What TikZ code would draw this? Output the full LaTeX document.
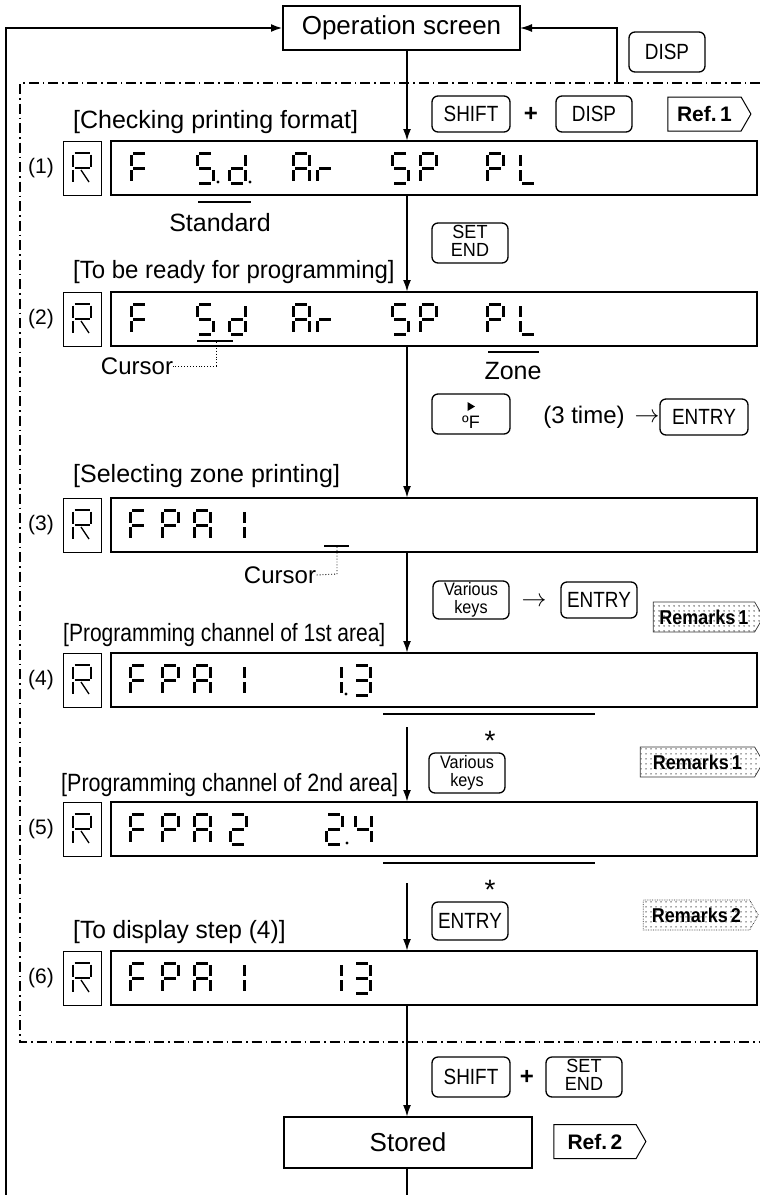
\documentclass[tikz,border=0pt]{standalone}
\usepackage{fontspec}
\setmainfont{Liberation Sans}
\usepackage{graphicx}
\usetikzlibrary{arrows.meta,shapes.symbols,patterns.meta,calc}
\tikzdeclarepattern{
  name=rdots,
  type=uncolored,
  bounding box={(0pt,0pt) and (4.5pt,4.5pt)},
  tile size={(4.5pt,4.5pt)},
  code={\pgfpathcircle{\pgfpoint{2.25pt}{2.25pt}}{0.85pt}\pgfusepath{fill}}
}
\newcommand\fsz[1]{\fontsize{#1}{#1}\selectfont}
% condensed key text
\newcommand\kt[1]{\scalebox{0.86}[1]{\fontsize{22}{22}\selectfont #1}}
\newcommand\ktt[3]{\scalebox{#3}[1]{\begin{tabular}{@{}c@{}}#1\\#2\end{tabular}}}
% seven segment display (cell 16 x 30)
\tikzset{seg/.style={line width=3pt, line cap=butt}}
\newcommand\SgA[2]{\draw[seg] ({#1+2},{#2}) -- ({#1+14},{#2});}
\newcommand\SgB[2]{\draw[seg] ({#1+16},{#2+2}) -- ({#1+16},{#2+13});}
\newcommand\SgC[2]{\draw[seg] ({#1+16},{#2+17}) -- ({#1+16},{#2+28});}
\newcommand\SgD[2]{\draw[seg] ({#1+2},{#2+30}) -- ({#1+14},{#2+30});}
\newcommand\SgE[2]{\draw[seg] ({#1},{#2+17}) -- ({#1},{#2+28});}
\newcommand\SgF[2]{\draw[seg] ({#1},{#2+2}) -- ({#1},{#2+13});}
\newcommand\SgG[2]{\draw[seg] ({#1+2},{#2+15}) -- ({#1+14},{#2+15});}
\newcommand\SgP[2]{\fill ({#1+21},{#2+29}) circle (1.7pt);}
\newcommand\dgF[2]{\SgA{#1}{#2}\SgF{#1}{#2}\SgE{#1}{#2}\SgG{#1}{#2}}
\newcommand\dgS[2]{\SgA{#1}{#2}\SgF{#1}{#2}\SgG{#1}{#2}\SgC{#1}{#2}\SgD{#1}{#2}}
\newcommand\dgd[2]{\SgB{#1}{#2}\SgC{#1}{#2}\SgD{#1}{#2}\SgE{#1}{#2}\SgG{#1}{#2}}
\newcommand\dgA[2]{\SgA{#1}{#2}\SgB{#1}{#2}\SgC{#1}{#2}\SgE{#1}{#2}\SgF{#1}{#2}\SgG{#1}{#2}}
\newcommand\dgr[2]{\SgE{#1}{#2}\SgG{#1}{#2}}
\newcommand\dgP[2]{\SgA{#1}{#2}\SgB{#1}{#2}\SgF{#1}{#2}\SgG{#1}{#2}\SgE{#1}{#2}}
\newcommand\dgL[2]{\SgF{#1}{#2}\SgE{#1}{#2}\SgD{#1}{#2}}
\newcommand\dgI[2]{\SgB{#1}{#2}\SgC{#1}{#2}}
\newcommand\dgII[2]{\SgA{#1}{#2}\SgB{#1}{#2}\SgG{#1}{#2}\SgE{#1}{#2}\SgD{#1}{#2}}
\newcommand\dgIII[2]{\SgA{#1}{#2}\SgB{#1}{#2}\SgG{#1}{#2}\SgC{#1}{#2}\SgD{#1}{#2}}
\newcommand\dgIV[2]{\SgF{#1}{#2}\SgG{#1}{#2}\SgB{#1}{#2}\SgC{#1}{#2}}
% thin R glyph, centred at (#1,#2)
\newcommand\Rglyph[2]{%
  \draw[line width=1.3pt] ({#1-7.5},{#2-15}) -- ({#1+7.5},{#2-15});
  \draw[line width=1.3pt] ({#1-9},{#2-13.5}) -- ({#1-9},{#2-1.5});
  \draw[line width=1.3pt] ({#1+9},{#2-13.5}) -- ({#1+9},{#2-1.5});
  \draw[line width=1.3pt] ({#1-7.5},{#2}) -- ({#1+7.5},{#2});
  \draw[line width=1.3pt] ({#1-9},{#2+1.5}) -- ({#1-9},{#2+14});
  \draw[line width=1.3pt] ({#1-1},{#2+2}) -- ({#1+7},{#2+14});}
\begin{document}
\begin{tikzpicture}[x=1pt,y=-1pt,
  box/.style={draw, line width=2.4pt, inner sep=0pt, outer sep=0pt},
  disp/.style={box, minimum width=646pt, minimum height=54pt},
  rbox/.style={draw, line width=0.9pt, minimum width=38pt, minimum height=54pt, inner sep=0pt},
  key/.style={draw, rounded corners=6pt, line width=1.3pt, minimum width=76pt, minimum height=38pt, inner sep=1pt, align=center},
  lbl/.style={inner sep=0pt, font=\fsz{25}, anchor=west},
  num/.style={inner sep=0pt, font=\fsz{21}},
  reftag/.style={signal, signal to=east, signal pointer angle=120, draw, line width=1pt, minimum width=83pt, minimum height=34pt, inner sep=2pt, font=\bfseries\fsz{21}},
  remtag/.style={signal, signal to=east, signal pointer angle=120, draw=black!80, line width=0.7pt, pattern=rdots, pattern color=black!70, minimum height=30pt, inner sep=2pt, font=\bfseries\fsz{20}},
  flow/.style={line width=2pt, -{Latex[length=12pt,width=8pt]}},
  ul/.style={line width=2.2pt},
  dotl/.style={dotted, line width=0.9pt},
  frame/.style={line width=1.5pt, dash pattern=on 10pt off 4pt on 1.5pt off 4pt}]
\useasboundingbox (0,0) rectangle (760,1195);

% frame
\coordinate (f1) at (760,83); \coordinate (f2) at (20,83);
\coordinate (f3) at (20,1042); \coordinate (f4) at (760,1042);
\draw[frame] (f1) -- (f2) -- (f3) -- (f4);

% operation screen
\node[box, minimum width=237pt, minimum height=44pt, font=\fsz{26}] (op) at (401.5,28) {Operation screen};
\coordinate (lb) at (6,1195);
\draw[line width=2.6pt, -{Latex[length=12pt,width=8pt]}] (lb) |- (op.west);
\coordinate (rt) at (617,83);
\draw[line width=1.4pt, -{Latex[length=12pt,width=8pt]}] (rt) |- (op.east);
\node[key, minimum height=40pt] (kdisp0) at (667,52) {\kt{DISP}};

% top step
\node[lbl] (t1) at (73,122) {[Checking printing format]};
\node[key, minimum width=78pt, minimum height=36pt] (ksh1) at (471,114) {\kt{SHIFT}};
\node[inner sep=0pt, font=\bfseries\fsz{24}] (pl1) at (531,114) {+};
\node[key, minimum height=36pt] (kdisp1) at (594,114) {\kt{DISP}};
\node[reftag] (ref1) at (704.5,114) {Ref.\,1};

% rows
\coordinate (mx) at (407,0);
\foreach \n/\c in {1/168,2/319,3/525,4/680,5/829,6/978}{
  \node[disp] (r\n) at (434,\c) {};
  \node[rbox] (rb\n) at (82,\c) {};
  \node[num] (n\n) at (41,\c) {(\n)};
  \Rglyph{82}{\c}
}

% row 1 : F S.d. Ar SP PL
\dgF{131}{153} \dgS{197}{153}\SgP{197}{153} \dgd{229}{153}\SgP{229}{153}
\dgA{293}{153} \dgr{317}{153} \dgS{392}{153} \dgP{420}{153} \dgP{487}{153} \dgL{520}{153}
\coordinate (su1) at (198,202); \coordinate (su2) at (251,202);
\draw[ul] (su1) -- (su2);
\node[inner sep=0pt, font=\fsz{25}] (std) at (220,223) {Standard};
\node[key, minimum height=40pt] (kse1) at (470,243) {\fontsize{19}{15.5}\selectfont\ktt{SET}{END}{0.95}};
\node[lbl] (t2) at (73,272) {\scalebox{0.96}[1]{[To be ready for programming]}};

% row 2 : F Sd Ar SP PL
\dgF{131}{304} \dgS{197}{304} \dgd{229}{304}
\dgA{293}{304} \dgr{317}{304} \dgS{392}{304} \dgP{420}{304} \dgP{487}{304} \dgL{520}{304}
\coordinate (cu1) at (197,341); \coordinate (cu2) at (233,341);
\draw[ul] (cu1) -- (cu2);
\node[inner sep=0pt, font=\fsz{24}] (cur1) at (137,366) {Cursor};
\coordinate (cd1) at (216,342); \coordinate (cd2) at (216,366);
\draw[dotl] (cd1) -- (cd2) -- (cur1.east);
\coordinate (zo1) at (488,352); \coordinate (zo2) at (539,352);
\draw[ul] (zo1) -- (zo2);
\node[inner sep=0pt, font=\fsz{25}] (zone) at (513,371) {Zone};
\node[key, minimum width=78pt, minimum height=40pt] (kf) at (471,414) {};
\fill ($(kf.center)+(-3.5,-12)$) -- ++(0,9) -- ++(7.5,-4.5) -- cycle;
\node[inner sep=0pt, font=\fsz{18}] (kft) at ($(kf.center)+(0,8)$) {ºF};
\node[inner sep=0pt, font=\fsz{24}] (t3x) at (584,417) {(3 time)};
\node[inner sep=0pt, font=\fsz{24}] (ar1) at (647,418) {$\rightarrow$};
\node[key, minimum width=88pt, minimum height=36pt] (ken1) at (704,417) {\kt{ENTRY}};
\node[lbl] (t3) at (73,476) {[Selecting zone printing]};

% row 3 : FPA1 _
\dgF{130}{510} \dgP{162}{510} \dgA{194}{510} \dgI{228}{510}
\coordinate (cu3) at (324,546); \coordinate (cu4) at (349,546);
\draw[ul] (cu3) -- (cu4);
\node[inner sep=0pt, font=\fsz{24}] (cur2) at (280,575) {Cursor};
\coordinate (cd3) at (337,547); \coordinate (cd4) at (337,574);
\draw[dotl] (cd3) -- (cd4) -- (cur2.east);
\node[key] (kva1) at (471,600) {\fontsize{18}{15}\selectfont\ktt{Various}{keys}{0.9}};
\node[inner sep=0pt, font=\fsz{24}] (ar2) at (534,602) {$\rightarrow$};
\node[key, minimum height=36pt] (ken2) at (599,600) {\kt{ENTRY}};
\node[remtag, minimum width=110pt] (rem1) at (704,617) {\scalebox{0.9}[1]{Remarks\,1}};
\node[lbl] (t4) at (63,635) {\scalebox{0.84}[1]{[Programming channel of 1st area]}};

% row 4 : FPA1 1.3
\dgF{130}{665} \dgP{162}{665} \dgA{194}{665} \dgI{228}{665}
\dgI{325}{665}\SgP{325}{665} \dgIII{354}{665}
\coordinate (o41) at (383,714); \coordinate (o42) at (595,714);
\draw[ul] (o41) -- (o42);
\node[inner sep=0pt, font=\fsz{28}] (ast1) at (490,741) {*};
\node[key, minimum height=40pt] (kva2) at (467,773) {\fontsize{18}{15}\selectfont\ktt{Various}{keys}{0.9}};
\node[remtag, minimum width=123pt] (rem2) at (697.5,762) {\scalebox{0.9}[1]{Remarks\,1}};
\node[lbl] (t5) at (61,785) {\scalebox{0.86}[1]{[Programming channel of 2nd area]}};

% row 5 : FPA2 2.4
\dgF{130}{814} \dgP{162}{814} \dgA{194}{814} \dgII{230}{814}
\dgII{326}{814}\SgP{326}{814} \dgIV{355}{814}
\coordinate (o51) at (383,863); \coordinate (o52) at (595,863);
\draw[ul] (o51) -- (o52);
\node[inner sep=0pt, font=\fsz{28}] (ast2) at (490,890) {*};
\node[key] (ken3) at (470,921) {\kt{ENTRY}};
\node[remtag, minimum width=115pt, densely dotted] (rem3) at (696.5,915) {\scalebox{0.9}[1]{Remarks\,2}};
\node[lbl] (t6) at (73,932) {\scalebox{0.98}[1]{[To display step (4)]}};

% row 6 : FPA1 13
\dgF{130}{963} \dgP{162}{963} \dgA{194}{963} \dgI{228}{963}
\dgI{325}{963} \dgIII{354}{963}

% bottom
\node[key, minimum width=78pt, minimum height=40pt] (ksh2) at (471,1077) {\kt{SHIFT}};
\node[inner sep=0pt, font=\bfseries\fsz{24}] (pl2) at (527,1077) {+};
\node[key, minimum height=40pt] (kse2) at (584,1077) {\fontsize{19}{15.5}\selectfont\ktt{SET}{END}{0.95}};
\node[box, minimum width=248pt, minimum height=51pt, font=\fsz{26}] (st) at (408,1142.5) {Stored};
\node[reftag, minimum width=92pt] (ref2) at (595,1141.5) {Ref.\,2};

% main flow
\draw[flow] (op.south -| mx) -- (r1.north -| mx);
\draw[flow] (r1.south -| mx) -- (r2.north -| mx);
\draw[flow] (r2.south -| mx) -- (r3.north -| mx);
\draw[flow] (r3.south -| mx) -- (r4.north -| mx);
\coordinate (s4) at (407,727);
\draw[flow] (s4) -- (r5.north -| mx);
\coordinate (s5) at (407,883);
\draw[flow] (s5) -- (r6.north -| mx);
\draw[flow] (r6.south -| mx) -- (st.north -| mx);
\coordinate (bot) at (407,1195);
\draw[line width=2pt] (st.south -| mx) -- (bot);
\end{tikzpicture}
\end{document}
